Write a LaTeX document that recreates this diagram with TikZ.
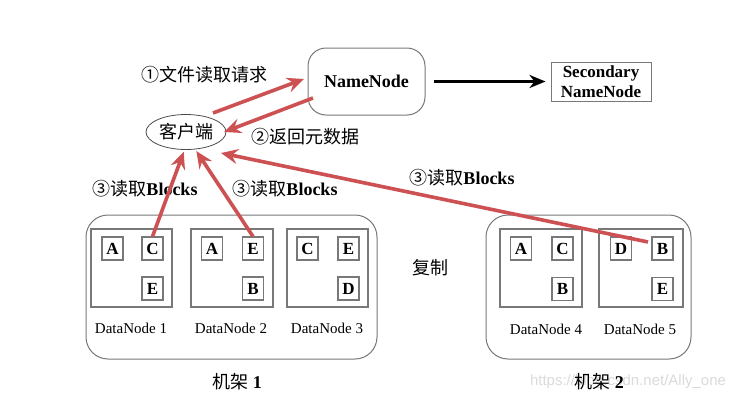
\documentclass[tikz,border=0pt]{standalone}
\usepackage{fontspec}
\setmainfont{Liberation Serif}
\newfontfamily\cjk{Noto Sans CJK SC}
\newfontfamily\wmfont{Liberation Sans}
\usetikzlibrary{arrows.meta,shapes.geometric,calc}
\definecolor{hred}{RGB}{205,80,82}
\definecolor{boxgray}{RGB}{120,120,120}
\tikzset{
  redarrow/.style={draw=hred,line width=3.6pt,-{Stealth[length=17pt,width=15pt,inset=6pt]}},
  blackarrow/.style={draw=black,line width=3pt,-{Stealth[length=16pt,width=13pt,inset=5pt]}},
  blk/.style={draw=boxgray,line width=1.1pt,minimum width=21pt,minimum height=23pt,inner sep=0pt,font=\bfseries\fontsize{17}{17}\selectfont},
  dnbox/.style={draw=boxgray,line width=1.1pt},
  rack/.style={draw=boxgray,line width=1pt,rounded corners=22pt},
  dnlabel/.style={font=\fontsize{15}{15}\selectfont},
  cjklabel/.style={font=\cjk\fontsize{18}{18}\selectfont,inner sep=0pt},
}
\begin{document}
\begin{tikzpicture}[x=1pt,y=-1pt]
\useasboundingbox[fill=white] (0,0) rectangle (740,402);
% racks
\draw[rack] (86,215) rectangle (377,359);
\draw[rack] (486,215) rectangle (691,359);
% datanode boxes
\draw[dnbox] (91,229) rectangle (172,307);
\draw[dnbox] (191,229) rectangle (273,307);
\draw[dnbox] (287,229) rectangle (368,307);
\draw[dnbox] (500,229) rectangle (582,307);
\draw[dnbox] (599,229) rectangle (683,307);
% blocks
\node[blk] (a1) at (112.5,248.5) {A};
\node[blk] (c1) at (152.5,248.5) {C};
\node[blk] (e1) at (152.5,288.5) {E};
\node[blk] (a2) at (212,248.5) {A};
\node[blk] (e2) at (253,248.5) {E};
\node[blk] (b2) at (253,288.5) {B};
\node[blk] (c3) at (307.5,248.5) {C};
\node[blk] (e3) at (348.5,248.5) {E};
\node[blk] (d3) at (348.5,288.5) {D};
\node[blk] (a4) at (521,248.5) {A};
\node[blk] (c4) at (562.5,248.5) {C};
\node[blk] (b4) at (562.5,289) {B};
\node[blk] (d5) at (621,248.5) {D};
\node[blk] (b5) at (662.5,248.5) {B};
\node[blk] (e5) at (662.5,289) {E};
% datanode labels
\node[dnlabel] (l1) at (131,328) {DataNode 1};
\node[dnlabel] (l2) at (231,328) {DataNode 2};
\node[dnlabel] (l3) at (327,328) {DataNode 3};
\node[dnlabel] (l4) at (546,329) {DataNode 4};
\node[dnlabel] (l5) at (640,329) {DataNode 5};
% rack labels
\node[font=\fontsize{18}{18}\selectfont] (r1) at (237,382) {{\cjk 机架} \textbf{1}};
\node[font=\wmfont\fontsize{15}{15}\selectfont,text=black!14] (wm) at (628,382) {https://blog.csdn.net/Ally\_one};
\node[font=\fontsize{18}{18}\selectfont] (r2) at (599,382) {{\cjk 机架} \textbf{2}};
\node[cjklabel] (copy) at (430,268) {复制};
% top nodes
\node[draw=boxgray,line width=1pt,rounded corners=18pt,minimum width=117pt,minimum height=67pt,font=\bfseries\fontsize{18}{18}\selectfont] (nn) at (366.5,81.5) {NameNode};
\node[draw=boxgray,line width=1pt,minimum width=100pt,minimum height=39pt,inner sep=0pt,align=center,font=\bfseries\fontsize{17}{20}\selectfont] (snn) at (601,81.5) {Secondary\\NameNode};
\node[ellipse,draw=black!70,line width=0.8pt,minimum width=80pt,minimum height=35pt,inner sep=0pt,font=\cjk\fontsize{18}{18}\selectfont] (client) at (186,132) {客户端};
% labels
\node[cjklabel] (lab1) at (204,75) {①文件读取请求};
\node[cjklabel] (lab2) at (305,137) {②返回元数据};
\node[font=\fontsize{18}{18}\selectfont,inner sep=0pt] (lab3a) at (145,189) {{\cjk ③读取}\textbf{Blocks}};
\node[font=\fontsize{18}{18}\selectfont,inner sep=0pt] (lab3b) at (285,189) {{\cjk ③读取}\textbf{Blocks}};
\node[font=\fontsize{18}{18}\selectfont,inner sep=0pt] (lab3c) at (462,178) {{\cjk ③读取}\textbf{Blocks}};
% connectors
\coordinate (s1) at (213,113);
\coordinate (t1) at (304,79);
\coordinate (s2) at (313,98);
\coordinate (t2) at (224,132);
\coordinate (t3c) at (221,153);
\coordinate (s3c) at (648,242);
\draw[blackarrow,shorten <=8pt,shorten >=5pt] (nn.east) -- (snn.west);
\draw[redarrow] (s1) -- (t1);
\draw[redarrow] (s2) -- (t2);
\draw[redarrow,shorten >=2pt] (c1.north) -- (client.-95);
\draw[redarrow,shorten >=2pt] (e2.north) -- (client.-62);
\draw[redarrow] (s3c) -- (t3c);
\end{tikzpicture}
\end{document}
